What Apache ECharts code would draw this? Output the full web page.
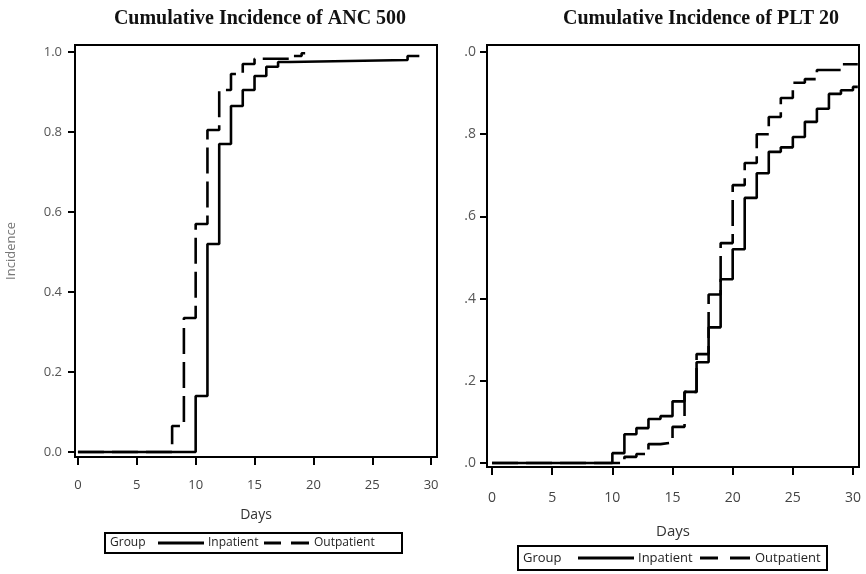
<!DOCTYPE html>
<html>
<head>
<meta charset="utf-8">
<script src="https://cdn.jsdelivr.net/npm/echarts@6/dist/echarts.min.js"></script>
<style>
html,body{margin:0;padding:0;background:#fff;}
#chart{width:866px;height:574px;}
</style>
</head>
<body>
<div id="chart"></div>
<script>
// ---- Data ----
const titles = ['Cumulative Incidence of ANC 500', 'Cumulative Incidence of PLT 20'];
const groupNames = ['Inpatient', 'Outpatient'];
const xTicks = [0, 5, 10, 15, 20, 25, 30];
const yTicks = [0, 0.2, 0.4, 0.6, 0.8, 1.0];
const leftYLabels = ['0.0', '0.2', '0.4', '0.6', '0.8', '1.0'];
const rightYLabels = ['.0', '.2', '.4', '.6', '.8', '.0'];

const ancInpatientDays = [0, 10, 11, 12, 13, 14, 15, 16, 17, 18, 28, 29];
const ancInpatient     = [0, 0.14, 0.52, 0.77, 0.865, 0.905, 0.94, 0.963, 0.975, 0.98, 0.99, 0.99];
const ancOutpatientDays = [0, 8, 9, 10, 11, 12, 13, 14, 15, 18, 19, 19.3];
const ancOutpatient     = [0, 0.065, 0.335, 0.57, 0.805, 0.905, 0.945, 0.97, 0.983, 0.99, 0.997, 0.997];

const pltInpatientDays = [0, 10, 11, 12, 13, 14, 15, 16, 17, 18, 19, 20, 21, 22, 23, 24, 25, 26, 27, 28, 29, 30, 30.4];
const pltInpatient     = [0, 0.024, 0.07, 0.085, 0.107, 0.114, 0.15, 0.173, 0.245, 0.33, 0.447, 0.52, 0.645, 0.705, 0.757, 0.768, 0.793, 0.83, 0.862, 0.898, 0.907, 0.915, 0.915];
const pltOutpatientDays = [0, 11, 12, 13, 14, 15, 16, 17, 18, 19, 20, 21, 22, 23, 24, 25, 26, 27, 29, 30.4];
const pltOutpatient     = [0, 0.015, 0.022, 0.046, 0.05, 0.088, 0.173, 0.265, 0.41, 0.535, 0.676, 0.73, 0.80, 0.842, 0.888, 0.925, 0.934, 0.956, 0.97, 0.97];

function pairs(xs, ys) { return xs.map((x, i) => [x, ys[i]]); }

const chart = echarts.init(document.getElementById('chart'), null, {renderer: 'canvas'});
const FONT = 'Open Sans';
const DASH = [26, 8];

function xAxisFor(gridIndex, min, max, fs, margin, nameGap) {
  return {
    type: 'value', gridIndex, min, max,
    axisLine: {show: true, onZero: false, lineStyle: {color: '#000', width: 2}},
    axisTick: {show: true, length: 8, customValues: xTicks, lineStyle: {color: '#000', width: 2}},
    axisLabel: {show: true, customValues: xTicks, fontSize: fs, color: '#444', fontFamily: FONT, margin},
    splitLine: {show: false},
    name: 'Days', nameLocation: 'middle', nameGap,
    nameTextStyle: {fontSize: fs + 1, color: '#333', fontFamily: FONT}
  };
}
function yAxisFor(gridIndex, min, max, labels, fs, margin, name) {
  return {
    type: 'value', gridIndex, min, max,
    axisLine: {show: true, onZero: false, lineStyle: {color: '#000', width: 2}},
    axisTick: {show: true, length: 7, customValues: yTicks, lineStyle: {color: '#000', width: 2}},
    axisLabel: {show: true, customValues: yTicks, fontSize: fs, color: '#555', fontFamily: FONT, margin,
      formatter: v => labels[yTicks.findIndex(t => Math.abs(t - v) < 1e-6)]},
    splitLine: {show: false},
    name: name || '', nameLocation: 'middle', nameGap: 57, nameRotate: 90,
    nameTextStyle: {fontSize: 13, color: '#777', fontFamily: FONT}
  };
}
function stepSeries(name, data, xi, dashed) {
  return {
    name, type: 'line', step: 'end', xAxisIndex: xi, yAxisIndex: xi,
    data, symbol: 'none', animation: false, clip: true,
    lineStyle: {color: '#000', width: 2.6, type: dashed ? DASH : 'solid'}
  };
}

function legendBox(x0, y0, w, h, fs, pos) {
  const yc = y0 + h / 2;
  const txt = (x, t) => ({type: 'text', x, y: yc,
    style: {text: t, fontSize: fs, fontFamily: FONT, fill: '#222', verticalAlign: 'middle'}});
  const seg = (a) => ({type: 'line', shape: {x1: a[0], y1: yc, x2: a[1], y2: yc}, style: {stroke: '#000', lineWidth: 3}});
  return [
    {type: 'rect', shape: {x: x0, y: y0, width: w, height: h}, style: {fill: '#fff', stroke: '#000', lineWidth: 2}},
    txt(pos.group, 'Group'),
    seg(pos.solid),
    txt(pos.inp, groupNames[0]),
    seg(pos.d1),
    seg(pos.d2),
    txt(pos.out, groupNames[1])
  ];
}

const option = {
  backgroundColor: '#fff',
  animation: false,
  title: [
    {text: titles[0], left: 255, top: 4, textAlign: 'center',
      textStyle: {fontFamily: 'Liberation Serif', fontWeight: 'bold', fontSize: 20, color: '#111'}},
    {text: titles[1], left: 696, top: 4, textAlign: 'center',
      textStyle: {fontFamily: 'Liberation Serif', fontWeight: 'bold', fontSize: 20, color: '#111'}}
  ],
  grid: [
    {left: 75, right: 429, top: 45, bottom: 117, show: true, borderColor: '#000', borderWidth: 2, containLabel: false},
    {left: 487, right: 7, top: 45, bottom: 107, show: true, borderColor: '#000', borderWidth: 2, containLabel: false}
  ],
  xAxis: [
    xAxisFor(0, -0.25, 30.5, 13, 22, 51),
    xAxisFor(1, -0.42, 30.5, 14, 24, 57)
  ],
  yAxis: [
    yAxisFor(0, -0.0125, 1.0175, leftYLabels, 13, 13, 'Incidence'),
    yAxisFor(1, -0.0097, 1.017, rightYLabels, 14, 11, '')
  ],
  series: [
    stepSeries(groupNames[0], pairs(ancInpatientDays, ancInpatient), 0, false),
    stepSeries(groupNames[1], pairs(ancOutpatientDays, ancOutpatient), 0, true),
    stepSeries(groupNames[0], pairs(pltInpatientDays, pltInpatient), 1, false),
    stepSeries(groupNames[1], pairs(pltOutpatientDays, pltOutpatient), 1, true)
  ],
  graphic: [
    ...legendBox(105, 533, 297, 20, 12, {group: 110, solid: [158, 204], inp: 208, d1: [264, 281], d2: [291, 309], out: 314}),
    ...legendBox(518, 546, 309, 24, 13, {group: 523, solid: [578, 634], inp: 638, d1: [700, 718], d2: [730, 750], out: 755})
  ]
};
chart.setOption(option);
</script>
</body>
</html>
